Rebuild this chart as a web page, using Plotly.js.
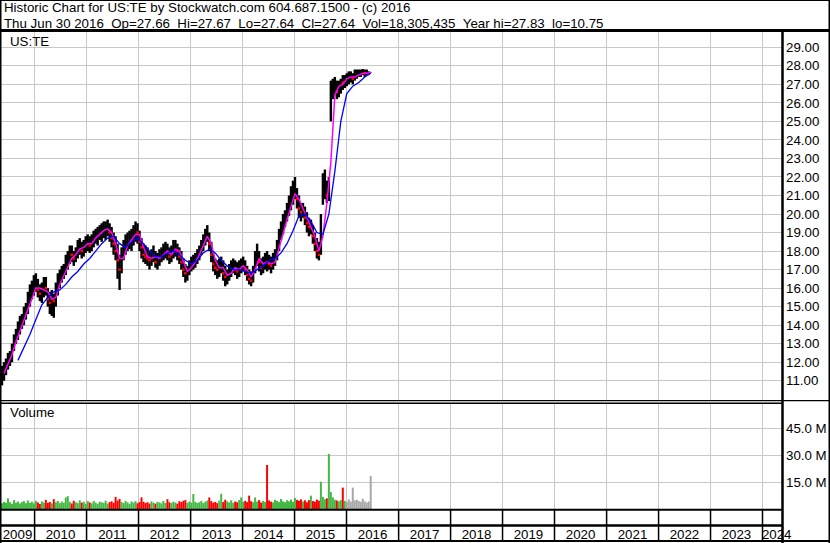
<!DOCTYPE html>
<html><head><meta charset="utf-8">
<script src="https://cdn.plot.ly/plotly-3.0.1.min.js"></script>
<style>html,body{margin:0;padding:0;background:#fff;}#chart{width:830px;height:543px;}</style>
</head><body><div id="chart"></div>
<script>
// ---------- data ----------
const barStart = '2009-05-17';   // first bar date; one bar every 14 days
const barStepDays = 14;
const priceLow = [10.75,11.0,11.3,11.6,11.8,12.0,12.6,13.0,13.2,13.5,
13.8,14.0,14.3,14.6,15.0,15.4,15.6,15.8,15.5,15.3,
15.2,15.5,15.6,15.0,14.6,14.5,14.4,15.0,15.6,16.0,
16.3,16.5,16.7,17.0,17.3,17.4,17.2,17.4,17.6,17.8,
17.6,17.7,17.9,18.0,17.9,18.0,18.2,18.4,18.3,18.6,
18.5,18.7,18.6,18.8,18.5,18.2,17.8,17.5,16.5,15.9,
16.8,17.5,17.8,18.0,18.1,18.0,18.3,18.5,18.4,18.0,
17.6,17.4,17.3,17.2,17.0,17.2,17.4,17.1,17.0,17.2,
17.4,17.5,17.6,17.5,17.3,17.4,17.6,17.7,17.5,17.3,
17.0,16.6,16.3,16.4,16.7,16.9,17.0,17.1,17.3,17.5,
17.8,18.0,18.3,18.5,18.0,17.4,16.9,16.7,16.5,16.6,
16.8,16.4,16.1,16.2,16.4,16.6,16.8,16.7,16.5,16.6,
16.8,16.9,16.7,16.4,16.2,16.1,16.3,16.8,17.2,16.9,
16.7,16.8,17.0,16.9,17.0,16.8,17.0,17.2,17.5,18.0,
18.6,18.9,19.3,19.6,19.9,20.2,20.5,20.8,20.3,19.8,
19.6,19.8,19.4,19.0,18.8,18.9,18.4,18.0,17.6,17.5,
17.8,20.5,20.8,20.6,20.7,25.0,26.2,26.4,26.2,26.3,
26.5,26.7,26.8,26.9,27.0,27.1,27.0,27.2,27.3,27.4,
27.4,27.5,27.4,27.5,27.5,27.64];
const priceHigh = [11.8,12.0,12.2,12.5,12.6,13.0,13.5,13.8,14.2,14.5,
14.6,15.0,15.2,15.8,16.2,16.4,16.7,16.8,16.5,16.2,
16.3,16.6,16.6,16.0,15.8,15.9,15.7,16.3,16.8,17.0,
17.2,17.3,17.8,18.0,18.3,18.3,18.0,18.2,18.6,18.7,
18.5,18.6,18.8,18.9,18.8,18.9,19.1,19.2,19.3,19.4,
19.5,19.6,19.6,19.7,19.5,19.3,19.0,18.8,18.4,17.8,
18.2,18.6,18.9,19.0,19.1,19.2,19.4,19.6,19.5,19.1,
18.7,18.4,18.3,18.2,18.0,18.1,18.3,18.0,17.9,18.1,
18.2,18.4,18.5,18.4,18.2,18.3,18.6,18.6,18.4,18.2,
18.0,17.6,17.3,17.2,17.5,17.7,17.8,17.9,18.1,18.3,
18.6,18.9,19.2,19.4,19.0,18.5,17.9,17.6,17.5,17.6,
17.7,17.5,17.2,17.0,17.3,17.5,17.6,17.5,17.4,17.5,
17.6,17.7,17.5,17.2,17.0,16.9,17.2,18.0,18.4,18.0,
17.6,17.7,17.9,18.0,17.8,17.7,17.9,18.1,18.6,19.2,
19.6,20.0,20.2,20.6,21.0,21.5,21.8,22.0,21.4,21.0,
20.6,20.6,20.4,20.1,19.8,19.7,19.4,19.0,18.7,18.5,
20.0,22.2,22.4,21.8,22.0,27.2,27.3,27.4,27.2,27.2,
27.3,27.5,27.5,27.6,27.7,27.7,27.6,27.8,27.8,27.8,
27.8,27.83,27.8,27.8,27.7,27.67];
const priceClose = [11.3,11.6,11.8,12.2,12.3,12.8,13.2,13.5,13.8,14.1,
14.3,14.6,14.8,15.3,15.8,16.0,16.2,16.3,15.9,15.7,
15.8,16.2,16.0,15.4,15.2,15.5,15.3,15.9,16.4,16.6,
16.9,17.0,17.3,17.6,17.9,17.8,17.6,17.9,18.2,18.4,
18.0,18.3,18.4,18.5,18.3,18.6,18.8,18.9,18.9,19.0,
19.1,19.2,19.3,19.3,19.0,18.7,18.4,18.0,17.5,17.0,
17.8,18.2,18.5,18.6,18.7,18.8,19.0,19.1,19.0,18.5,
18.2,17.8,17.7,17.6,17.5,17.7,17.9,17.4,17.5,17.7,
17.8,18.0,18.1,17.9,17.7,17.9,18.2,18.3,18.0,17.7,
17.4,17.0,16.8,16.9,17.1,17.3,17.4,17.6,17.8,18.0,
18.3,18.6,18.9,19.0,18.4,17.8,17.3,17.1,17.0,17.2,
17.3,16.8,16.6,16.6,16.9,17.1,17.2,17.0,16.9,17.0,
17.2,17.3,17.0,16.7,16.5,16.4,16.9,17.6,17.9,17.4,
17.1,17.3,17.5,17.4,17.3,17.2,17.5,17.7,18.2,18.8,
19.2,19.6,19.8,20.2,20.6,21.0,21.3,21.4,20.8,20.3,
20.1,20.2,19.8,19.5,19.3,19.4,18.8,18.4,18.0,17.8,
19.8,21.6,22.0,21.0,21.5,26.8,26.9,27.0,26.6,26.8,
27.2,27.1,27.3,27.4,27.4,27.5,27.3,27.6,27.6,27.6,
27.7,27.7,27.6,27.7,27.6,27.64];
const volumeMillions = [3.2,4.0,3.5,6.0,3.8,2.9,5.0,3.6,4.2,3.1,3.9,4.4,3.3,4.8,3.5,
4.1,3.2,4.6,3.7,2.8,4.3,3.6,5.1,3.4,4.0,3.2,5.5,3.8,4.5,3.3,
4.2,3.5,6.5,7.2,4.0,3.1,4.6,3.8,3.3,4.9,3.6,4.1,3.0,4.4,3.7,
3.2,4.5,3.6,2.9,4.1,3.8,3.4,4.7,3.1,3.9,4.3,3.5,6.8,4.8,5.6,
4.0,3.3,4.5,3.7,3.0,4.2,3.6,4.4,3.2,3.9,6.5,4.1,3.4,3.8,3.1,
4.3,3.5,3.0,4.0,3.7,3.2,4.6,3.4,5.5,3.8,3.3,4.1,3.6,3.0,4.4,
3.9,4.6,5.0,3.5,4.2,3.6,8.4,4.0,3.4,3.8,4.5,3.3,4.1,4.8,6.5,
4.4,3.6,4.0,3.3,4.7,8.5,3.9,5.2,4.3,3.7,4.9,3.5,4.2,3.8,5.0,
6.5,4.1,4.6,3.9,7.5,4.4,3.8,6.5,4.2,5.0,3.6,4.5,4.0,24.7,4.8,
4.1,3.7,5.2,4.5,3.9,5.6,4.3,3.8,4.9,4.4,5.3,4.0,6.2,5.1,4.6,
5.4,4.2,4.9,3.8,5.0,7.5,4.5,4.1,5.3,4.7,15.3,6.8,5.5,6.0,30.9,
9.5,6.5,5.2,4.8,4.3,5.0,12.0,4.6,4.0,5.4,4.2,12.0,4.8,5.2,4.5,
4.0,5.8,4.3,3.6,4.2,18.5];
const fastMAStart = '2009-05-31', fastMAStepDays = 28;   // magenta average
const fastMA = [11.4,11.9,12.4,13.1,13.7,14.3,14.8,15.5,16.0,16.0,
15.9,15.8,15.4,15.5,16.2,16.7,17.2,17.6,17.8,18.1,
18.2,18.4,18.4,18.7,18.9,19.1,19.2,19.0,18.4,17.6,
17.6,18.3,18.6,18.9,18.9,18.2,17.7,17.6,17.7,17.6,
17.8,18.0,17.8,18.1,18.0,17.4,16.9,17.1,17.4,17.8,
18.3,18.8,18.4,17.5,17.1,17.1,16.7,16.8,17.1,17.0,
17.2,17.0,16.6,17.0,17.6,17.3,17.4,17.3,17.4,18.2,
19.0,19.7,20.4,21.1,20.8,20.3,19.9,19.4,18.8,18.0,
18.8,20.6,22.8,26.4,26.9,27.0,27.3,27.4,27.4,27.5,
27.6,27.6,27.64];
const slowMAStart = '2009-09-06', slowMAStepDays = 42;   // blue average
const slowMA = [12.1,12.8,13.5,14.3,15.1,15.5,15.8,15.9,16.2,16.6,
16.9,17.3,17.6,18.0,18.4,18.7,18.8,18.4,18.2,18.5,
18.7,18.4,18.0,17.7,17.7,17.9,18.0,17.8,17.5,17.3,
17.5,17.9,18.1,17.9,17.5,17.2,17.0,17.0,16.9,16.8,
17.0,17.2,17.5,17.6,17.9,18.4,19.1,19.9,20.0,19.6,
19.0,18.9,20.0,22.3,25.0,26.5,26.9,27.1,27.4,27.6];
const yearLabels = ['2009','2010','2011','2012','2013','2014','2015','2016','2017','2018','2019','2020','2021','2022','2023','2024'];
const yearLabelDates = ['2009-09-03','2010-07-02','2011-07-02','2012-07-02','2013-07-02','2014-07-02','2015-07-02','2016-07-02','2017-07-02','2018-07-02','2019-07-02','2020-07-02','2021-07-02','2022-07-02','2023-07-02','2024-04-10'];
const priceTicks = [11,12,13,14,15,16,17,18,19,20,21,22,23,24,25,26,27,28,29];
const volumeTicks = [15,30,45];
const volumeTickText = ['15.0 M','30.0 M','45.0 M'];
const headerLine1 = 'Historic Chart for US:TE by Stockwatch.com 604.687.1500 - (c) 2016';
const headerLine2 = 'Thu Jun 30 2016  Op=27.66  Hi=27.67  Lo=27.64  Cl=27.64  Vol=18,305,435  Year hi=27.83  lo=10.75';

// ---------- helpers ----------
const DAY = 86400000;
function dateSeries(start, stepDays, n){
  const t0 = Date.parse(start + 'T00:00:00Z');
  return Array.from({length:n}, (_, i) => new Date(t0 + i*stepDays*DAY).toISOString().slice(0,10));
}
const barDates = dateSeries(barStart, barStepDays, priceClose.length);
const fastDates = dateSeries(fastMAStart, fastMAStepDays, fastMA.length);
const slowDates = dateSeries(slowMAStart, slowMAStepDays, slowMA.length);
const yearStarts = yearLabels.slice(1).map(y => y + '-01-01');

const W = 830, H = 543;
const px = x => x / W, py = y => 1 - y / H;
const GRID = '#c8c8c8';
const FONT = '"Liberation Sans", Arial, sans-serif';

const downIdx = priceClose.map((c,i) => i > 0 && c < priceClose[i-1] ? i : -1).filter(i => i >= 0);
const volColors = volumeMillions.map((v,i) => {
  if (barDates[i] >= '2016-01-01') return '#a8a8a8';
  return (i > 0 && priceClose[i] < priceClose[i-1]) ? '#ff0000' : '#44b844';
});

const traces = [
  {type:'bar', x:barDates, base:priceLow, y:priceHigh.map((h,i)=>h-priceLow[i]),
   width:17*DAY, marker:{color:'#000', line:{width:0}}, xaxis:'x', yaxis:'y', hoverinfo:'skip'},
  {type:'scatter', mode:'markers', x:downIdx.map(i=>barDates[i]), y:downIdx.map(i=>priceClose[i]),
   marker:{color:'#ff0000', size:2.5, symbol:'square', line:{width:0}}, xaxis:'x', yaxis:'y', hoverinfo:'skip'},
  {type:'scatter', mode:'lines', x:fastDates, y:fastMA, line:{color:'#ff00ff', width:1.5},
   xaxis:'x', yaxis:'y', hoverinfo:'skip'},
  {type:'scatter', mode:'lines', x:slowDates, y:slowMA, line:{color:'#0000ff', width:1.3},
   xaxis:'x', yaxis:'y', hoverinfo:'skip'},
  {type:'bar', x:barDates, y:volumeMillions, width:14*DAY, marker:{color:volColors, line:{width:0}},
   xaxis:'x2', yaxis:'y2', hoverinfo:'skip'}
];

const xRange = ['2009-05-03','2024-05-17'];
const line = (x0,y0,x1,y1,w,c) => ({type:'line', xref:'paper', yref:'paper', x0:px(x0), y0:py(y0), x1:px(x1), y1:py(y1), line:{color:c||'#000', width:w}});
const shapes = [
  line(0,0.5,830,0.5,1),
  line(0.75,0,0.75,543,1.5),
  line(829.25,0,829.25,543,1.5),
  line(0,541,830,541,2),
  line(0,30.5,830,30.5,3),
  line(782.5,30,782.5,543,2.5),
  line(0,400.6,830,400.6,1.4),
  line(0,403.3,782,403.3,1.4),
  line(0,509.8,782,509.8,2),
  line(0,525.5,782,525.5,2.4)
];
yearStarts.forEach(d => shapes.push({type:'line', xref:'x2', yref:'paper', x0:d, x1:d, y0:py(510), y1:py(541), line:{color:'#000', width:1.5}}));

const ann = (text, x, y) => ({text, x:px(x), y:py(y), xref:'paper', yref:'paper', xanchor:'left', yanchor:'middle', showarrow:false, font:{family:FONT, size:13.3, color:'#000'}});
const nb = s => s.replace(/ /g, '\u00a0');

const layout = {
  width:W, height:H, margin:{l:0, r:0, t:0, b:0, pad:0},
  paper_bgcolor:'#fff', plot_bgcolor:'#fff', showlegend:false, barmode:'overlay',
  font:{family:FONT, size:13.3, color:'#000'},
  xaxis:{domain:[0, 782/830], range:xRange, type:'date', anchor:'y', tickmode:'array', tickvals:yearStarts,
         showticklabels:false, ticks:'', showgrid:true, gridcolor:GRID, gridwidth:1, zeroline:false, showline:false, fixedrange:true},
  xaxis2:{domain:[0, 782/830], range:xRange, type:'date', anchor:'y2', tickmode:'array', tickvals:yearLabelDates, ticktext:yearLabels,
          ticks:'', showgrid:false, zeroline:false, showline:false, fixedrange:true, ticklabelstandoff:16,
          tickfont:{family:FONT, size:13.3, color:'#000'},
          minor:{tickmode:'array', tickvals:yearStarts, showgrid:true, gridcolor:GRID, gridwidth:1, ticks:''}},
  yaxis:{domain:[py(400), py(31)], range:[9.96, 29.88], side:'right', anchor:'x', tickmode:'array', tickvals:priceTicks,
         tickformat:'.2f', ticks:'', showgrid:true, gridcolor:GRID, gridwidth:1, zeroline:false, showline:false,
         ticklabelstandoff:3, tickfont:{family:FONT, size:13.3, color:'#000'}, fixedrange:true},
  yaxis2:{domain:[py(509), py(403)], range:[0, 59.5], side:'right', anchor:'x2', tickmode:'array', tickvals:volumeTicks,
          ticktext:volumeTickText, ticks:'', showgrid:true, gridcolor:GRID, gridwidth:1, zeroline:false, showline:false,
          ticklabelstandoff:3, tickfont:{family:FONT, size:13.3, color:'#000'}, fixedrange:true},
  shapes,
  annotations:[
    ann(nb(headerLine1), 2, 7.8),
    ann(nb(headerLine2), 2, 23.3),
    ann('US:TE', 8, 41.5),
    ann('Volume', 8, 412.7)
  ]
};
Plotly.newPlot('chart', traces, layout, {staticPlot:true, displayModeBar:false});
</script></body></html>
